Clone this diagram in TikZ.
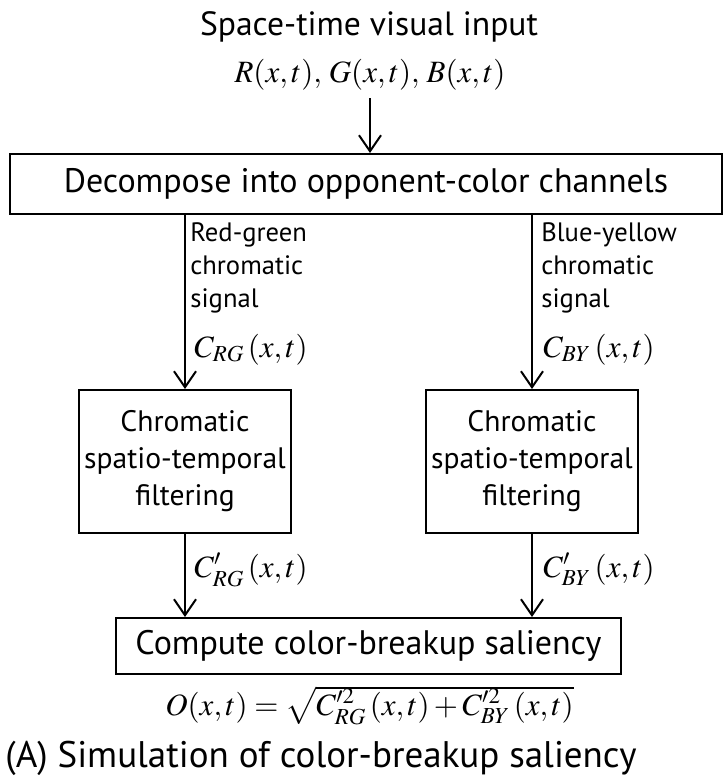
\documentclass[tikz,border=0pt]{standalone}
\usepackage{mathptmx}
\usepackage[no-math]{fontspec}
\setmainfont{PT Sans}
\usetikzlibrary{arrows.meta}

\newcommand{\xt}{(x,t)}

\tikzstyle{bigbox} = [
    rectangle,
    draw=black,
    line width=1pt,
    minimum height=30pt,
    inner sep=0pt,
    font=\fontsize{17}{20}\selectfont
]
\tikzstyle{filterbox} = [
    rectangle,
    draw=black,
    line width=1pt,
    minimum width=106pt,
    minimum height=71.5pt,
    align=center,
    inner sep=0pt,
    font=\fontsize{14.8}{18.5}\selectfont
]
\tikzstyle{signal} = [
    anchor=north west,
    align=left,
    inner sep=0pt,
    font=\fontsize{13.3}{16.5}\selectfont
]
\tikzstyle{formula} = [
    inner sep=0pt,
    font=\fontsize{15.5}{18}\selectfont
]
\tikzstyle{arrow} = [line width=1pt, -{Straight Barb[length=8pt, width=11pt]}]

\begin{document}
\begin{tikzpicture}[x=0.5pt, y=-0.5pt]
\useasboundingbox (0,0) rectangle (723,777);

\node (title) [anchor=base, inner sep=0pt, font=\fontsize{16.8}{19}\selectfont] at (369,35)
{Space-time visual input};

\node (rgb) [formula, anchor=base] at (370,82)
{$R\xt{,}\;G\xt{,}\;B\xt$};

\node (decompose) [bigbox, minimum width=356pt] at (366,184)
{Decompose into opponent-color channels};

\node (filterRG) [filterbox] at (185,461.5)
{Chromatic\\spatio-temporal\\filtering};

\node (filterBY) [filterbox] at (532,461.5)
{Chromatic\\spatio-temporal\\filtering};

\node (saliency) [bigbox, minimum width=252.5pt, minimum height=28pt] at (368.5,646)
{Compute color-breakup saliency};

% labels on the two channels
\node (sigRG) [signal] at (190,222) {Red-green\\chromatic\\signal};
\node (sigBY) [signal] at (541,222) {Blue-yellow\\chromatic\\signal};

\node (cRG) [formula, anchor=base west] at (194,357) {$C_{RG}\,\xt$};
\node (cBY) [formula, anchor=base west] at (543,357) {$C_{BY}\,\xt$};

\node (cfRG) [formula, anchor=base west] at (194,577) {$C'_{RG}\,\xt$};
\node (cfBY) [formula, anchor=base west] at (543,577) {$C'_{BY}\,\xt$};

\node (output) [formula, anchor=base] at (369.5,715)
{$O\xt=\sqrt{\vphantom{(}\smash{C'^{2}_{RG}\,\xt+C'^{2}_{BY}\,\xt}}$};

\node (caption) [anchor=base west, inner sep=0pt, font=\fontsize{18.5}{23}\selectfont] at (5,767)
{(A) Simulation of color-breakup saliency};

\draw [arrow, shorten <=4pt] (rgb) -- (rgb |- decompose.north);

\draw [arrow] (decompose.south -| filterRG) -- (filterRG);
\draw [arrow] (decompose.south -| filterBY) -- (filterBY);

\draw [arrow] (filterRG) -- (filterRG |- saliency.north);
\draw [arrow] (filterBY) -- (filterBY |- saliency.north);

\end{tikzpicture}
\end{document}
